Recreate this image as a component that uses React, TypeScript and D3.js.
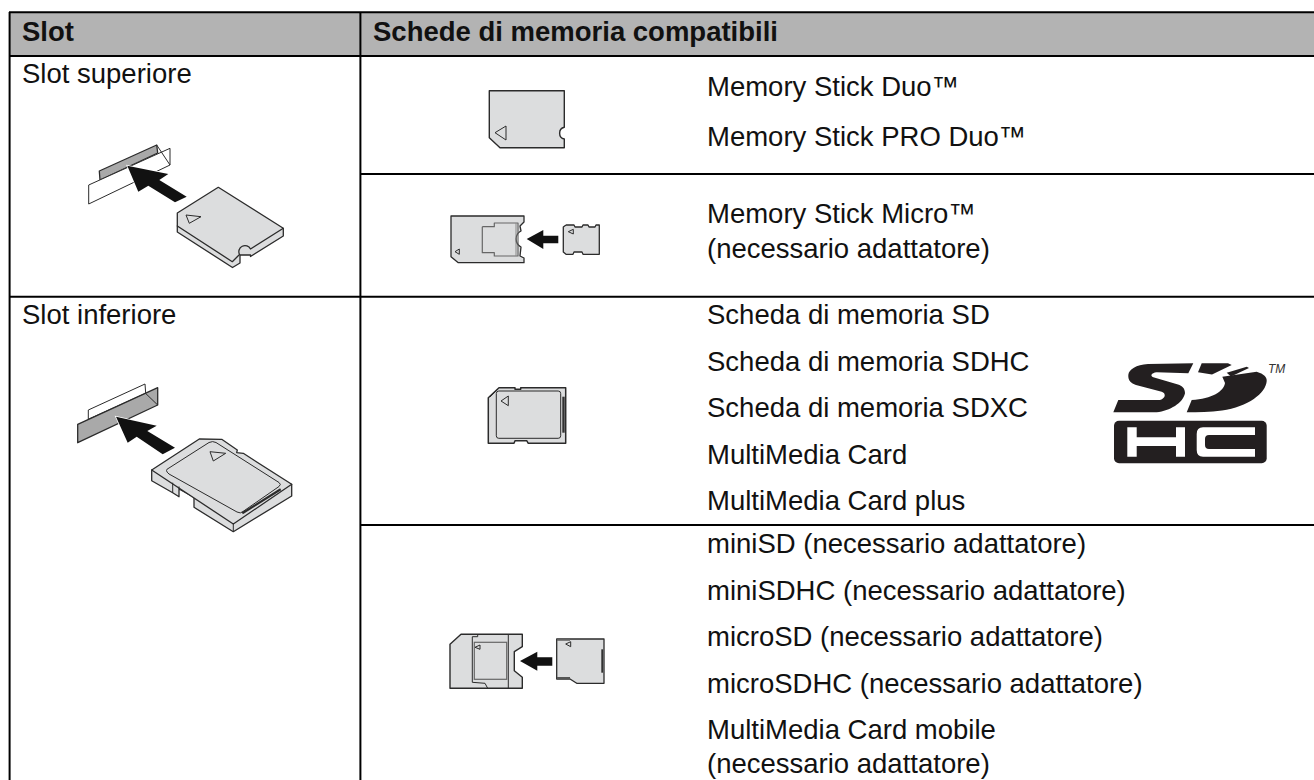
import * as d3 from 'd3'

const headers = ['Slot', 'Schede di memoria compatibili']
const slots = ['Slot superiore', 'Slot inferiore']
const duoCards = ['Memory Stick Duo™', 'Memory Stick PRO Duo™']
const microCards = ['Memory Stick Micro™', '(necessario adattatore)']
const sdCards = ['Scheda di memoria SD', 'Scheda di memoria SDHC', 'Scheda di memoria SDXC', 'MultiMedia Card', 'MultiMedia Card plus']
const miniCards = ['miniSD (necessario adattatore)', 'miniSDHC (necessario adattatore)', 'microSD (necessario adattatore)', 'microSDHC (necessario adattatore)', 'MultiMedia Card mobile']
const mobileNote = ['(necessario adattatore)']

const W = 1314
const H = 780
const INK = '#111'
const CARD = '#dcddde'
const EDGE = '#2b2b2b'
const SLOT = '#a9a9a9'

type Pt = [number, number]
const line = d3.line()
const poly = (pts: Pt[]) => line(pts) + 'Z'
const open = (pts: Pt[]) => line(pts) as string

// baseline of each text line in a block
const block = (lines: string[], first: number, last: number) => {
  const y = d3.scaleLinear().domain([0, Math.max(lines.length - 1, 1)]).range([first, last])
  return lines.map((t, i) => ({ t, y: y(i) }))
}

const rightText = [
  ...block(duoCards, 96, 146),
  ...block(microCards, 223, 258),
  ...block(sdCards, 324, 510),
  ...block(miniCards, 553, 739),
  ...block(mobileNote, 773, 773),
]

const Shape = ({ d, fill = 'none', stroke = EDGE, w = 1.3 }: { d: string; fill?: string; stroke?: string; w?: number }) => (
  <path d={d} fill={fill} stroke={stroke} strokeWidth={w} strokeLinejoin="round" />
)

const Arrow = ({ pts, halo = false }: { pts: Pt[]; halo?: boolean }) => (
  <path d={poly(pts)} fill="#111" stroke={halo ? '#fff' : 'none'} strokeWidth={halo ? 1.5 : 0} paintOrder="stroke" />
)

const UpperSlot = () => (
  <g>
    <Shape d={poly([[99.3, 171], [156.7, 145], [157.7, 153], [100, 180]])} fill={SLOT} />
    <Shape d={poly([[88.7, 185], [170, 148.3], [170, 165], [88.7, 204]])} fill="#fff" w={1} />
    <Shape d={open([[156.7, 145], [170, 165]])} w={1} />
    <Arrow halo pts={[[127.3, 165.7], [168.3, 174], [159.3, 180], [186.7, 196.7], [175, 202.3], [148.3, 185.7], [138.3, 191.7]]} />
    <Shape d="M177.3 226V232L232.5 267.5L240 263V255H250.5V256.5L283.3 236V228.3Z" fill={CARD} />
    <Shape d="M218.3 187.3L283.3 228.3L250.5 249A6 6 0 0 0 239.5 254.5L232.3 261.7L177.3 226V213Z" fill={CARD} />
    <Shape d={poly([[186, 215], [201, 216.7], [189.3, 223.3]])} w={1} />
  </g>
)

const LowerSlot = () => (
  <g>
    <Shape d={poly([[88.3, 410], [145, 384], [145.7, 393.3], [88.3, 419.3]])} fill="#fff" w={1} />
    <Shape d={poly([[77.7, 424.3], [157.7, 387.7], [157.7, 405], [77.7, 442.7]])} fill={SLOT} />
    <Shape d={open([[145.5, 393.3], [157.7, 405]])} w={1} />
    <Arrow halo pts={[[116, 416.7], [156.7, 425.7], [147.3, 431], [175, 447.7], [162.7, 454.3], [136.7, 436.7], [127.7, 442.7]]} />
    <Shape d={poly([[151.7, 470], [151.7, 480.7], [172.7, 492.7], [179, 496.7], [179, 489], [194, 497.3], [194, 507.3], [233.3, 531.7], [291.7, 496], [291.7, 484.3]])} fill={CARD} />
    <Shape d={poly([[151.7, 470], [199.3, 439], [221.7, 439.3], [237.3, 450], [236.7, 452.7], [243.3, 453.3], [291.7, 484.3], [233.3, 524]])} fill={CARD} />
    <Shape d={open([[233.3, 524], [233.3, 531.7]])} w={1} />
    <Shape d={open([[172.7, 482.7], [172.7, 492.7]])} w={1} />
    <Shape d={open([[179, 486.5], [179, 489]])} w={1} />
    <Shape d="M169 468L209 442.5Q212.7 440.7 216 442.5L279 482.5Q281.7 484.3 279 486.5L243 511.5Q240.7 514 237 512L169 474Q164 470 169 468Z" fill={CARD} w={1} />
    <Shape d={open([[242.3, 513.3], [280.7, 489.3]])} w={2.2} />
    <Shape d={poly([[210, 451.7], [225.7, 453.3], [213.3, 461]])} w={1} />
  </g>
)

const DuoCard = () => (
  <g>
    <Shape d="M489.3 90.7H564.3V127.3A6 6 0 0 0 564.3 139V147.7H500L489.3 137.7Z" fill={CARD} w={1.4} />
    <Shape d={poly([[506, 126], [495, 132.7], [506, 140]])} w={1} />
  </g>
)

const MicroCard = () => (
  <g>
    <Shape d="M451 216H524V222L520 226L521 231A9 9 0 0 0 521 247L520 256L524 258V262.7H458.3L451 256.7Z" fill={CARD} w={1.3} />
    <Shape d={open([[482.3, 226.7], [494.3, 226.7], [494.3, 223], [518, 223], [518, 256], [494.3, 256], [494.3, 252.7], [482.3, 252.7], [482.3, 226.7]])} stroke="#666" w={1.2} />
    <Shape d={open([[516, 223], [516, 256]])} stroke="#888" w={1} />
    <Shape d={poly([[459.3, 249], [455, 251.7], [459.3, 254.3]])} w={1} />
    <Arrow pts={[[526.7, 239], [543.3, 230], [543.3, 235.7], [558.3, 235.7], [558.3, 243.3], [543.3, 243.3], [543.3, 249]]} />
    <Shape d={open([[566, 225], [574, 225], [575, 227], [582, 227], [583, 225], [588, 225], [589, 227], [595, 227], [596, 225], [599.3, 225], [599.3, 254.3], [583, 254.3], [582, 252], [574, 252], [573, 254.3], [566, 254.3], [563.3, 252], [563.3, 227], [566, 225]])} fill={CARD} w={1.3} />
    <Shape d={poly([[573.3, 229.3], [568.3, 231.7], [573.3, 234]])} w={1} />
  </g>
)

const SdCard = () => (
  <g>
    <Shape d={poly([[499, 387.7], [515, 387.7], [515, 389.3], [520.7, 389.3], [520.7, 387.7], [565.7, 387.7], [565.7, 443.3], [528.3, 443.3], [526.7, 440.7], [515, 440.7], [514, 443.3], [488.3, 443.3], [488.3, 397.7]])} fill={CARD} w={1.5} />
    <rect x={496.3} y={391} width={64.4} height={47.3} rx={2.5} fill={CARD} stroke={EDGE} strokeWidth={1} />
    <Shape d={open([[490, 397], [498, 389]])} w={1} />
    <rect x={562.3} y={396.7} width={2.4} height={36} fill="#333" />
    <Shape d={poly([[508.3, 396], [501, 401], [508.3, 405.7]])} w={1} />
  </g>
)

const MiniCard = () => (
  <g>
    <Shape d={poly([[450, 644.3], [461, 634.3], [522.3, 634.3], [522.3, 646.7], [514.3, 651.7], [514.3, 670.7], [522.3, 677.3], [522.3, 688.3], [450, 688.3]])} fill={CARD} w={1.4} />
    <Shape d={open([[508.3, 635], [508.3, 688]])} w={1} />
    <Shape d={open([[472.3, 636.7], [472.3, 682.3], [485, 683.3], [487.7, 688.3]])} w={1} />
    <Shape d={open([[472.3, 636.7], [477.7, 636.7], [477.7, 634.3]])} w={1} />
    <rect x={474.3} y={642.3} width={32.4} height={37} fill={CARD} stroke="#666" strokeWidth={1.2} />
    <Shape d={poly([[480, 645], [475, 647.3], [480, 649.3]])} w={1} />
    <Arrow pts={[[520, 661], [537.3, 651.7], [537.3, 657.3], [552.3, 657.3], [552.3, 665.7], [537.3, 665.7], [537.3, 670.7]]} />
    <Shape d={poly([[556.7, 639], [604, 639], [604, 683.3], [576.7, 683.3], [570, 679], [556.7, 679]])} fill={CARD} w={1.3} />
    <Shape d={open([[557, 640], [570, 640]])} stroke="#666" w={1.6} />
    <Shape d={open([[557, 678], [570, 678]])} stroke="#555" w={2} />
    <rect x={601.3} y={649.3} width={1.8} height={23.4} fill="#333" />
    <Shape d={poly([[570.7, 641.7], [565.7, 644], [570.7, 646.7]])} w={1} />
  </g>
)

const SdLogo = () => (
  <g fill="#231f20">
    <path d="M1193.3 363.3L1148 364C1136 365 1129 369 1128.3 375C1128 381 1131 383 1136 385L1161.7 391.7C1166 393 1166 398 1160 400L1118.3 400L1113.3 412.3L1156.7 412.3C1170 411 1183 403 1185 393.3C1185 388 1182 386 1178 384.5L1153.3 377.3C1150 376 1151 373 1156.7 372.3L1188.3 373.3Z" />
    <path d="M1201.7 363.3L1228 363.3L1231.7 365L1212 374.5L1198 372.3Z" />
    <path d="M1226.7 372.7L1246.7 366.7L1249 368L1231 376.5Z" />
    <path d="M1222.3 376.7L1256.7 371.7C1264 374 1267 377 1266.7 381C1266 393 1248 407 1222 410.5C1210 412 1198 412.3 1186.7 412.3L1191.7 400C1212 399 1224 391 1225 383Z" />
    <rect x={1114} y={420.7} width={152.7} height={42.6} rx={5} />
    <path fill="#fff" d="M1127.3 427.3H1136.7V437.3H1176V427.3H1185V456.7H1176V446H1136.7V456.7H1127.3Z" />
    <path fill="#fff" d="M1203 427.3H1255V435H1209Q1205 435 1205 439V445Q1205 449 1209 449H1255V456.7H1203Q1196.7 456.7 1196.7 450V434Q1196.7 427.3 1203 427.3Z" />
    <text x={1268} y={372.5} fontFamily="'Liberation Sans', Arial, sans-serif" fontSize={12} fontStyle="italic" fill="#333">TM</text>
  </g>
)

export default function App() {
  const font = "'Liberation Sans', Arial, sans-serif"
  const x = d3.scaleOrdinal<string, number>().domain(headers).range([22, 373])
  const textProps = { fontFamily: font, fontSize: 27.5, fill: INK }

  return (
    <svg width={W} height={H} style={{ position: 'fixed', left: 0, top: 0, display: 'block', background: '#fff' }}>
      <rect x={10} y={13} width={W - 10} height={43} fill="#b3b3b3" />

      {/* table rules */}
      <g stroke="#000" fill="none">
        <path d={open([[9, 12.3], [W, 12.3]])} strokeWidth={2} />
        <path d={open([[9, 56], [W, 56]])} strokeWidth={2} />
        <path d={open([[9, 296.7], [W, 296.7]])} strokeWidth={2} />
        <path d={open([[360, 174], [W, 174]])} strokeWidth={2} />
        <path d={open([[360, 525], [W, 525]])} strokeWidth={2} />
        <path d={open([[9.6, 12], [9.6, H]])} strokeWidth={2} />
        <path d={open([[360.4, 12], [360.4, H]])} strokeWidth={2} />
      </g>

      {headers.map(h => (
        <text key={h} x={x(h)} y={41} {...textProps} fontWeight="bold">{h}</text>
      ))}
      {slots.map((s, i) => (
        <text key={s} x={22} y={i === 0 ? 83 : 323.5} {...textProps}>{s}</text>
      ))}
      {rightText.map(d => (
        <text key={d.t + d.y} x={707} y={d.y} {...textProps}>{d.t}</text>
      ))}

      <UpperSlot />
      <LowerSlot />
      <DuoCard />
      <MicroCard />
      <SdCard />
      <MiniCard />
      <SdLogo />
    </svg>
  )
}
